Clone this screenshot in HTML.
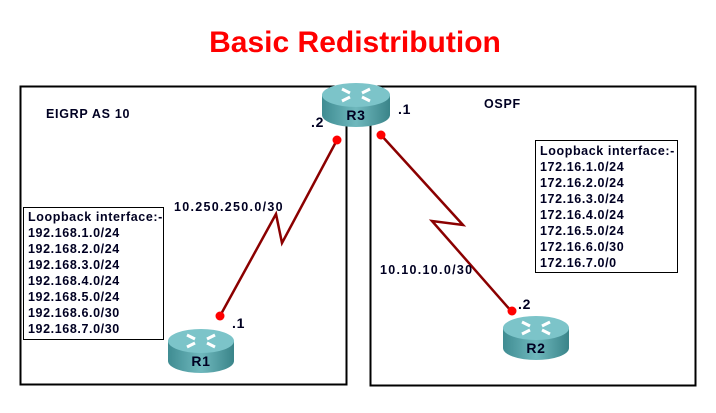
<!DOCTYPE html>
<html><head><style>
body{margin:0;width:716px;height:408px;background:#fff;overflow:hidden;font-family:"Liberation Sans",sans-serif}
</style></head><body>
<svg width="716" height="408" xmlns="http://www.w3.org/2000/svg">
<defs>
<linearGradient id="g" x1="0" x2="1" y1="0" y2="0">
<stop offset="0" stop-color="#3f8c92"/><stop offset="0.5" stop-color="#6fb8bd"/><stop offset="1" stop-color="#3a8489"/>
</linearGradient>
</defs>
<text x="355" y="52" text-anchor="middle" font-size="30" font-weight="bold" fill="#ff0000">Basic Redistribution</text>
<rect x="20.5" y="86.5" width="326" height="298" fill="none" stroke="#000" stroke-width="2"/>
<rect x="370.5" y="86.5" width="325" height="299" fill="none" stroke="#000" stroke-width="2"/>
<g stroke="#8b0000" stroke-width="2.5" fill="none">
<polyline points="220,316 276,214 282,243 337,140"/>
<polyline points="381,135 463,225 432,221 512,312"/>
</g>
<g fill="#ff0000">
<circle cx="337" cy="140" r="4.5"/><circle cx="381" cy="135" r="4.5"/>
<circle cx="220" cy="316" r="4.5"/><circle cx="512" cy="311" r="4.5"/>
</g>
<g font-size="12.5" font-weight="bold" fill="#000022" letter-spacing="0.7">
<g transform="translate(356,103)">
<path d="M-34,-8 v20 a34,12 0 0 0 68,0 v-20z" fill="url(#g)"/>
<ellipse cx="0" cy="-8" rx="34" ry="12" fill="#7cc4c9"/>
<path d="M-14,-14 l8,4 M14,-2 l-8,-4 M-14,-2 l8,-4 M14,-14 l-8,4" stroke="#fff" stroke-width="3"/>
<text x="0" y="17" text-anchor="middle" font-size="14">R3</text></g>
<g transform="translate(201,349)">
<path d="M-33,-8 v20 a33,12 0 0 0 66,0 v-20z" fill="url(#g)"/>
<ellipse cx="0" cy="-8" rx="33" ry="12" fill="#7cc4c9"/>
<path d="M-14,-14 l8,4 M14,-2 l-8,-4 M-14,-2 l8,-4 M14,-14 l-8,4" stroke="#fff" stroke-width="3"/>
<text x="0" y="17" text-anchor="middle" font-size="14">R1</text></g>
<g transform="translate(536,336)">
<path d="M-33,-8 v20 a33,12 0 0 0 66,0 v-20z" fill="url(#g)"/>
<ellipse cx="0" cy="-8" rx="33" ry="12" fill="#7cc4c9"/>
<path d="M-14,-14 l8,4 M14,-2 l-8,-4 M-14,-2 l8,-4 M14,-14 l-8,4" stroke="#fff" stroke-width="3"/>
<text x="0" y="17" text-anchor="middle" font-size="14">R2</text></g>
<text x="46" y="118">EIGRP AS 10</text>
<text x="484" y="108">OSPF</text>
<text x="311" y="127" font-size="14">.2</text>
<text x="398" y="114" font-size="14">.1</text>
<text x="232" y="328" font-size="14">.1</text>
<text x="518" y="309" font-size="14">.2</text>
<text x="174" y="211" letter-spacing="1.3">10.250.250.0/30</text>
<text x="380" y="274" letter-spacing="1.3">10.10.10.0/30</text>
</g>
<rect x="23.5" y="207.5" width="140" height="132" fill="#fff" stroke="#000"/>
<g font-size="12.5" font-weight="bold" fill="#000022" letter-spacing="0.6">
<text x="28" y="221">Loopback interface:-</text>
<text x="28" y="237">192.168.1.0/24</text>
<text x="28" y="253">192.168.2.0/24</text>
<text x="28" y="269">192.168.3.0/24</text>
<text x="28" y="285">192.168.4.0/24</text>
<text x="28" y="301">192.168.5.0/24</text>
<text x="28" y="317">192.168.6.0/30</text>
<text x="28" y="333">192.168.7.0/30</text>
</g>
<rect x="535.5" y="140.5" width="142" height="132" fill="#fff" stroke="#000"/>
<g font-size="12.5" font-weight="bold" fill="#000022" letter-spacing="0.6">
<text x="540" y="155">Loopback interface:-</text>
<text x="540" y="171">172.16.1.0/24</text>
<text x="540" y="187">172.16.2.0/24</text>
<text x="540" y="203">172.16.3.0/24</text>
<text x="540" y="219">172.16.4.0/24</text>
<text x="540" y="235">172.16.5.0/24</text>
<text x="540" y="251">172.16.6.0/30</text>
<text x="540" y="267">172.16.7.0/0</text>
</g>
</svg>
</body></html>
